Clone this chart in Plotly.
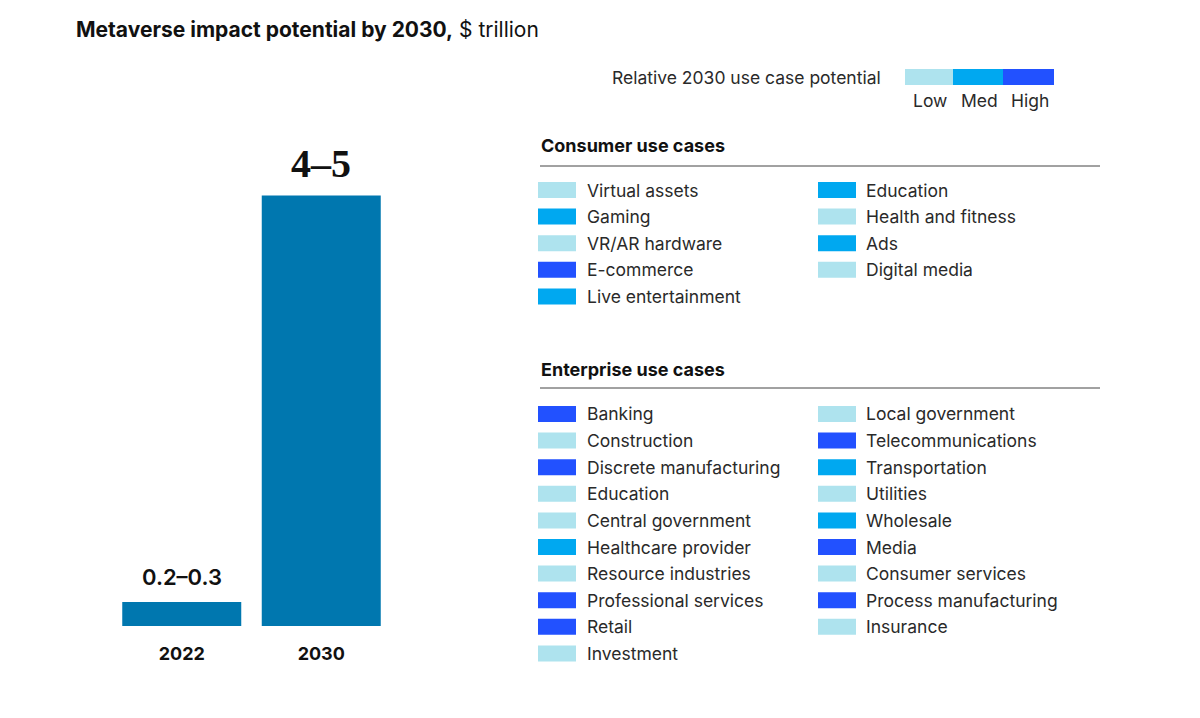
import plotly.graph_objects as go

# ---- Data ----
years = ["2022", "2030"]
impact_values = [0.25, 4.5]          # $ trillion (bar height, midpoint of range)
impact_labels = ["0.2–0.3", "4–5"]

potential_levels = ["Low", "Med", "High"]
potential_colors = {"Low": "#AEE3EE", "Med": "#00A8F0", "High": "#2251FF"}

consumer_col1 = ["Virtual assets", "Gaming", "VR/AR hardware", "E-commerce", "Live entertainment"]
consumer_col1_lvl = ["Low", "Med", "Low", "High", "Med"]
consumer_col2 = ["Education", "Health and fitness", "Ads", "Digital media"]
consumer_col2_lvl = ["Med", "Low", "Med", "Low"]

enterprise_col1 = ["Banking", "Construction", "Discrete manufacturing", "Education",
                   "Central government", "Healthcare provider", "Resource industries",
                   "Professional services", "Retail", "Investment"]
enterprise_col1_lvl = ["High", "Low", "High", "Low", "Low", "Med", "Low", "High", "High", "Low"]
enterprise_col2 = ["Local government", "Telecommunications", "Transportation", "Utilities",
                   "Wholesale", "Media", "Consumer services", "Process manufacturing", "Insurance"]
enterprise_col2_lvl = ["Low", "High", "Med", "Low", "Med", "High", "Low", "High", "Low"]

# ---- Layout helpers (pixel -> paper) ----
W, H = 1200, 718
def px(x):
    return x / W
def py(y):
    return 1 - y / H

SANS = "Inter, 'Liberation Sans', Arial, sans-serif"
SERIF = "'Liberation Serif', 'DejaVu Serif', Georgia, serif"
TEXT_COL = "#2a2a2a"

fig = go.Figure()
fig.add_trace(go.Bar(
    x=years, y=impact_values,
    marker=dict(color="#0077AF", line=dict(width=0)),
    hoverinfo="skip",
))

annotations = []
shapes = []

# value labels above bars (x given as category index)
label_fonts = [dict(family=SANS, size=22, color="#111", weight=600),
               dict(family=SERIF, size=40, color="#111", weight="bold")]
label_shift = [25, 32]
for i, (v, lab, f, s) in enumerate(zip(impact_values, impact_labels, label_fonts, label_shift)):
    annotations.append(dict(x=i, y=v, xref="x", yref="y", text=lab, showarrow=False,
                            yanchor="middle", xanchor="center", yshift=s, font=f))

# Title
annotations.append(dict(x=px(74), y=py(29), xref="paper", yref="paper", xanchor="left",
                        yanchor="middle", showarrow=False,
                        text="<b>Metaverse impact potential by 2030,</b> $ trillion",
                        font=dict(family=SANS, size=21, color="#111")))

# Potential scale legend
annotations.append(dict(x=px(883), y=py(77), xref="paper", yref="paper", xanchor="right",
                        yanchor="middle", showarrow=False,
                        text="Relative 2030 use case potential",
                        font=dict(family=SANS, size=17.5, color=TEXT_COL)))
seg_edges = [905, 953, 1003, 1054]
for i, lvl in enumerate(potential_levels):
    x0, x1 = seg_edges[i], seg_edges[i + 1]
    shapes.append(dict(type="rect", xref="paper", yref="paper",
                       x0=px(x0), x1=px(x1), y0=py(85), y1=py(69),
                       fillcolor=potential_colors[lvl], line=dict(width=0)))
    annotations.append(dict(x=px((x0 + x1) / 2 + 1), y=py(100), xref="paper", yref="paper",
                            xanchor="center", yanchor="middle", showarrow=False, text=lvl,
                            font=dict(family=SANS, size=17.5, color=TEXT_COL)))

def section(title, title_y, line_y, first_row_y, cols):
    annotations.append(dict(x=px(539), y=py(title_y), xref="paper", yref="paper",
                            xanchor="left", yanchor="middle", showarrow=False,
                            text="<b>" + title + "</b>",
                            font=dict(family=SANS, size=18, color="#111")))
    shapes.append(dict(type="line", xref="paper", yref="paper",
                       x0=px(540), x1=px(1100), y0=py(line_y), y1=py(line_y),
                       line=dict(color="#444", width=1)))
    step = 26.6
    for (names, lvls), sx, tx in zip(cols, [538, 818], [585, 864]):
        for i, (n, l) in enumerate(zip(names, lvls)):
            cy = first_row_y + i * step
            shapes.append(dict(type="rect", xref="paper", yref="paper",
                               x0=px(sx), x1=px(sx + 38), y0=py(cy + 8), y1=py(cy - 8),
                               fillcolor=potential_colors[l], line=dict(width=0)))
            annotations.append(dict(x=px(tx), y=py(cy), xref="paper", yref="paper",
                                    xanchor="left", yanchor="middle", showarrow=False,
                                    text=n, font=dict(family=SANS, size=17.5, color=TEXT_COL)))

section("Consumer use cases", 145, 166, 190,
        [(consumer_col1, consumer_col1_lvl), (consumer_col2, consumer_col2_lvl)])
section("Enterprise use cases", 369, 388, 414,
        [(enterprise_col1, enterprise_col1_lvl), (enterprise_col2, enterprise_col2_lvl)])

fig.update_layout(
    width=W, height=H,
    margin=dict(l=0, r=0, t=0, b=0),
    paper_bgcolor="white", plot_bgcolor="white",
    showlegend=False,
    bargap=0.147,
    annotations=annotations,
    shapes=shapes,
    xaxis=dict(type="category", domain=[px(112), px(391)], range=[-0.5, 1.5],
               showgrid=False, zeroline=False,
               showline=False, ticks="", tickmode="array", tickvals=years,
               ticktext=["<b>" + y + "</b>" for y in years],
               tickfont=dict(family=SANS, size=18, color="#111"),
               ticklabelstandoff=15, automargin=False, fixedrange=True),
    yaxis=dict(domain=[py(626), py(140)], range=[0, 5.08], showgrid=False, zeroline=False,
               showline=False, showticklabels=False, ticks="", automargin=False,
               fixedrange=True),
)

fig.write_html("out.html")
